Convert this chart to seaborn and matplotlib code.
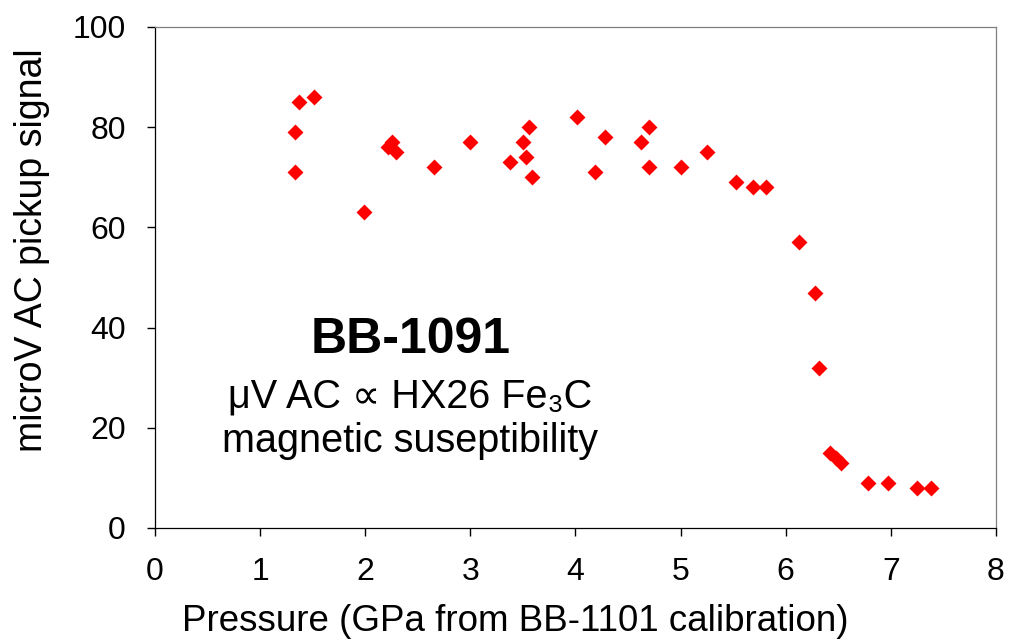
import matplotlib
matplotlib.use("Agg")
import matplotlib.pyplot as plt
import seaborn as sns
import pandas as pd

pressure = [1.33, 1.33, 1.37, 1.51, 1.99, 2.22, 2.25, 2.29, 2.65, 3.00,
            3.38, 3.50, 3.53, 3.56, 3.59, 4.01, 4.19, 4.28, 4.62, 4.70,
            4.70, 5.00, 5.25, 5.53, 5.69, 5.81, 6.13, 6.28, 6.32, 6.42,
            6.48, 6.53, 6.78, 6.97, 7.25, 7.38]
signal = [71, 79, 85, 86, 63, 76, 77, 75, 72, 77,
          73, 77, 74, 80, 70, 82, 71, 78, 77, 80,
          72, 72, 75, 69, 68, 68, 57, 47, 32, 15,
          14, 13, 9, 9, 8, 8]

x_ticks = [0, 1, 2, 3, 4, 5, 6, 7, 8]
y_ticks = [0, 20, 40, 60, 80, 100]

sns.set_theme(style="ticks")
plt.rcParams['font.family'] = ['Liberation Sans', 'DejaVu Sans']
plt.rcParams['text.color'] = 'black'

df = pd.DataFrame({"Pressure": pressure, "Signal": signal})

fig = plt.figure(figsize=(10.09, 6.41), dpi=100)
ax = fig.add_axes([0.1536, 0.1763, 0.8335, 0.7816])
sns.scatterplot(data=df, x="Pressure", y="Signal", ax=ax, marker="D",
                color="#ff0000", s=66, linewidth=0, zorder=3)

ax.set_xlim(0, 8)
ax.set_ylim(0, 100)
ax.set_xticks(x_ticks)
ax.set_yticks(y_ticks)
ax.tick_params(axis='both', direction='out', length=6, width=1, color='black',
               labelsize=23, labelcolor='black', pad=15)
for sp in ax.spines.values():
    sp.set_visible(True)
    sp.set_color('black')
    sp.set_linewidth(0.9)
ax.spines['top'].set_color('#808080')
ax.spines['right'].set_color('#808080')

ax.set_xlabel("Pressure (GPa from BB-1101 calibration)", fontsize=26.5, color='black')
ax.set_ylabel("microV AC pickup signal", fontsize=27, color='black')
ax.xaxis.set_label_coords(0.428, -0.151)
ax.yaxis.set_label_coords(-0.125, 0.555)

ax.text(2.43, 37.5, "BB-1091", fontsize=36, fontweight='bold', ha='center', va='center',
        color='black')
ax.text(2.43, 26.3, "μV AC ∝ HX26 Fe₃C", fontsize=28.5, ha='center', va='center', color='black')
ax.text(2.43, 17.3, "magnetic suseptibility", fontsize=28.5, ha='center', va='center', color='black')

fig.savefig("out.png", dpi=100)
